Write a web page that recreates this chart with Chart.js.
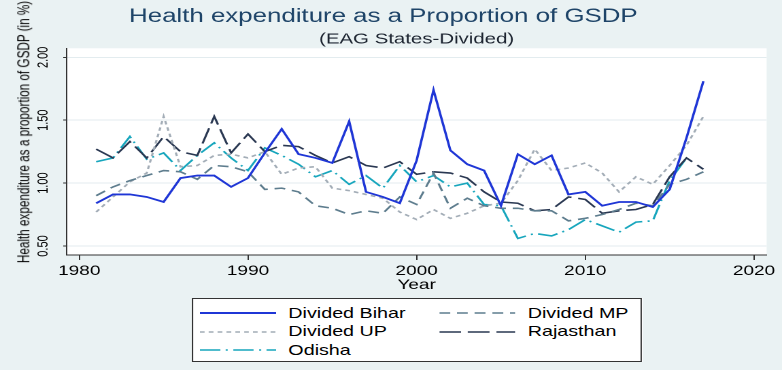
<!DOCTYPE html>
<html>
<head>
<meta charset="utf-8">
<script src="https://cdn.jsdelivr.net/npm/chart.js@4.4.0/dist/chart.umd.min.js"></script>
<style>
  body { margin: 0; background: #eaf2f3; overflow: hidden; }
  /* a figura original vem esticada na horizontal, por isso o scaleX */
  #quadro { position: absolute; left: 0; top: 0; width: 575px; height: 370px; transform: scaleX(1.36); transform-origin: 0 0; }
  #tituloY { position: absolute; left: 16.5px; top: 132px; transform: translate(-50%, -50%) rotate(-90deg);
    white-space: nowrap; font: 11.7px "Liberation Sans", Arial, sans-serif; color: #000; }
  #legenda { position: absolute; left: 141px; top: 298px; width: 329px; height: 62px; background: #fff; border: 1px solid #333; }
  .amostra { position: absolute; width: 56px; height: 6px; }
  .rotulo { position: absolute; font: 14.5px "Liberation Sans", Arial, sans-serif; color: #000; white-space: nowrap; line-height: 17px; }
</style>
</head>
<body>
<div id="quadro">
  <canvas id="grafico" width="575" height="370"></canvas>
  <div id="tituloY">Health expenditure as a proportion of GSDP (in %)</div>
  <div id="legenda"></div>
</div>
<script>
var anos = [1981, 1982, 1983, 1984, 1985, 1986, 1987, 1988, 1989, 1990,
  1991, 1992, 1993, 1994, 1995, 1996, 1997, 1998, 1999, 2000,
  2001, 2002, 2003, 2004, 2005, 2006, 2007, 2008, 2009, 2010,
  2011, 2012, 2013, 2014, 2015, 2016, 2017];

var biharDividido = [0.84, 0.91, 0.91, 0.89, 0.85, 1.04, 1.06, 1.06, 0.97, 1.04,
  1.24, 1.43, 1.23, 1.20, 1.16, 1.49, 0.93, 0.89, 0.84, 1.18,
  1.74, 1.26, 1.15, 1.10, 0.82, 1.23, 1.15, 1.22, 0.91, 0.93,
  0.82, 0.85, 0.85, 0.81, 0.95, 1.36, 1.81];

var mpDividido = [0.90, 0.97, 1.02, 1.06, 1.10, 1.09, 1.03, 1.14, 1.13, 1.09,
  0.95, 0.96, 0.93, 0.82, 0.80, 0.75, 0.78, 0.76, 0.89, 0.83,
  1.08, 0.80, 0.88, 0.82, 0.80, 0.80, 0.78, 0.78, 0.70, 0.72,
  0.75, 0.79, 0.84, 0.82, 0.99, 1.03, 1.09];

var upDividido = [0.77, 0.89, 1.01, 1.08, 1.53, 1.13, 1.14, 1.22, 1.23, 1.20,
  1.25, 1.07, 1.12, 1.13, 0.96, 0.94, 0.91, 0.88, 0.77, 0.71,
  0.79, 0.72, 0.76, 0.82, 0.84, 1.02, 1.27, 1.10, 1.12, 1.16,
  1.08, 0.93, 1.05, 0.99, 1.14, 1.30, 1.53];

var rajasthan = [1.27, 1.20, 1.33, 1.20, 1.37, 1.25, 1.22, 1.53, 1.24, 1.39,
  1.25, 1.30, 1.29, 1.22, 1.16, 1.21, 1.14, 1.12, 1.17, 1.07,
  1.09, 1.08, 1.04, 0.93, 0.85, 0.84, 0.78, 0.79, 0.89, 0.87,
  0.76, 0.78, 0.79, 0.83, 1.05, 1.20, 1.11];

var odisha = [1.17, 1.20, 1.37, 1.19, 1.24, 1.10, 1.22, 1.32, 1.20, 1.10,
  1.28, 1.22, 1.15, 1.05, 1.10, 0.99, 1.06, 0.96, 1.14, 1.01,
  1.06, 0.97, 1.00, 0.83, 0.82, 0.56, 0.60, 0.58, 0.63, 0.71,
  0.66, 0.61, 0.69, 0.70, 1.02, 1.20, null];

var ticksX = [1980, 1990, 2000, 2010, 2020];
var ticksY = [0.5, 1, 1.5, 2];

var nomes = ["Divided Bihar", "Divided MP", "Divided UP", "Rajasthan", "Odisha"];
var series = [biharDividido, mpDividido, upDividido, rajasthan, odisha];
var cores = ["#1f36d6", "#5e7d8e", "#a3adb7", "#2a3852", "#17a6bd"];
var tracos = [[], [8, 5], [3.5, 3], [16, 5], [15, 4, 1.5, 4]];
var larguras = [1.8, 1.6, 1.6, 1.6, 1.6];

var fonte = "'Liberation Sans', Arial, sans-serif";

function montarPontos(valores) {
  var pontos = [];
  for (var i = 0; i < anos.length; i++) {
    pontos.push({ x: anos[i], y: valores[i] });
  }
  return pontos;
}

var datasets = [];
for (var i = 0; i < series.length; i++) {
  datasets.push({
    label: nomes[i],
    data: montarPontos(series[i]),
    borderColor: cores[i],
    borderWidth: larguras[i],
    borderDash: tracos[i],
    backgroundColor: "transparent",
    pointRadius: 0,
    tension: 0,
    fill: false,
  });
}

var fundoBranco = {
  id: "fundoBranco",
  beforeDraw: function (chart) {
    var a = chart.chartArea;
    var ctx = chart.ctx;
    ctx.save();
    ctx.fillStyle = "#ffffff";
    ctx.fillRect(a.left, a.top, a.right - a.left, a.bottom - a.top);
    ctx.restore();
  },
};

var ctx = document.getElementById("grafico").getContext("2d");
var grafico = new Chart(ctx, {
  type: "line",
  data: { datasets: datasets },
  options: {
    responsive: false,
    devicePixelRatio: 2,
    animation: false,
    layout: { padding: { top: 0, right: 11.3, bottom: 76.6, left: 0 } },
    plugins: {
      legend: { display: false },
      tooltip: { enabled: false },
      title: {
        display: true,
        text: "Health expenditure as a Proportion of GSDP",
        color: "#1e4468",
        font: { family: fonte, size: 19, weight: "normal", lineHeight: 1.2 },
        padding: { top: 5.3, bottom: 0 },
      },
      subtitle: {
        display: true,
        fullSize: false,
        text: "(EAG States-Divided)",
        color: "#1c2430",
        font: { family: fonte, size: 15, weight: "normal", lineHeight: 1.2 },
        padding: { top: 2.2, bottom: 0 },
      },
    },
    scales: {
      x: {
        type: "linear",
        min: 1979.25,
        max: 2020.75,
        afterBuildTicks: function (escala) {
          escala.ticks = ticksX.map(function (v) { return { value: v }; });
        },
        afterFit: function (escala) {
          escala.height = 38.4;
        },
        ticks: {
          autoSkip: false,
          maxRotation: 0,
          padding: 2.5,
          color: "#000",
          font: { family: fonte, size: 14 },
          callback: function (v) { return String(v); },
        },
        grid: { drawOnChartArea: false, drawTicks: true, tickLength: 5, tickColor: "#333" },
        border: { display: true, color: "#333", width: 1 },
        title: {
          display: true,
          text: "Year",
          color: "#000",
          font: { family: fonte, size: 14 },
          padding: { top: 0, bottom: 0 },
        },
      },
      y: {
        min: 0.4285,
        max: 2.0715,
        afterBuildTicks: function (escala) {
          escala.ticks = ticksY.map(function (v) { return { value: v }; });
        },
        afterFit: function (escala) {
          escala.width = 49;
        },
        ticks: {
          autoSkip: false,
          minRotation: 90,
          maxRotation: 90,
          crossAlign: "center",
          padding: 4,
          color: "#000",
          font: { family: fonte, size: 11 },
          callback: function (v) { return Number(v).toFixed(2); },
        },
        grid: { color: "#e3ecef", lineWidth: 1, drawTicks: true, tickLength: 2.5, tickColor: "#333" },
        border: { display: true, color: "#333", width: 1 },
      },
    },
  },
  plugins: [fundoBranco],
});

// legenda em html, duas colunas como na figura
function montarLegenda() {
  var caixa = document.getElementById("legenda");
  var colunaX = [5, 181];
  var linhaY = [14, 32.5, 51];
  for (var i = 0; i < nomes.length; i++) {
    var col = i % 2;
    var lin = Math.floor(i / 2);
    var svg = document.createElementNS("http://www.w3.org/2000/svg", "svg");
    svg.setAttribute("class", "amostra");
    svg.style.left = colunaX[col] + "px";
    svg.style.top = (linhaY[lin] - 3) + "px";
    var linha = document.createElementNS("http://www.w3.org/2000/svg", "line");
    linha.setAttribute("x1", 0);
    linha.setAttribute("y1", 3);
    linha.setAttribute("x2", 56);
    linha.setAttribute("y2", 3);
    linha.setAttribute("stroke", cores[i]);
    linha.setAttribute("stroke-width", larguras[i]);
    if (tracos[i].length) linha.setAttribute("stroke-dasharray", tracos[i].join(" "));
    svg.appendChild(linha);
    caixa.appendChild(svg);

    var texto = document.createElement("div");
    texto.className = "rotulo";
    texto.textContent = nomes[i];
    texto.style.left = (colunaX[col] + 65) + "px";
    texto.style.top = (linhaY[lin] - 8.5) + "px";
    caixa.appendChild(texto);
  }
}
montarLegenda();
</script>
</body>
</html>
